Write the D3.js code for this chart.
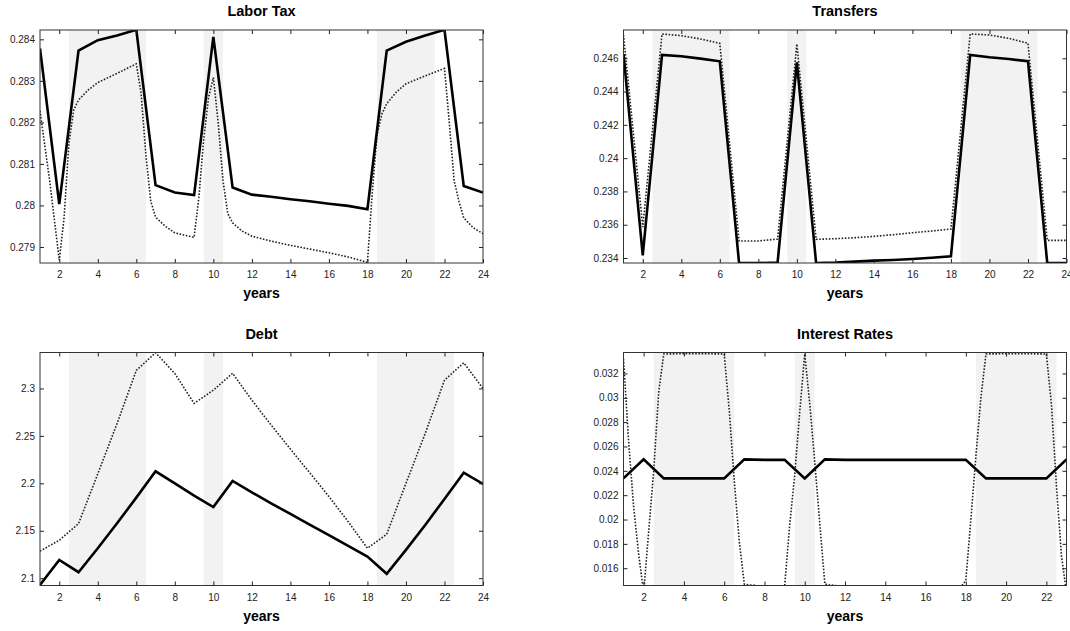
<!DOCTYPE html>
<html>
<head>
<meta charset="utf-8">
<script src="https://cdn.jsdelivr.net/npm/d3@7"></script>
<style>
  html, body { margin: 0; padding: 0; background: #fff; }
  svg { display: block; }
  .tick text { font-family: "Liberation Sans", Arial, sans-serif; font-size: 10px; fill: #222; }
</style>
</head>
<body>
<svg id="chart" width="1070" height="631"></svg>
<script>
// ---------------- DATA ----------------
const years = [1,2,3,4,5,6,7,8,9,10,11,12,13,14,15,16,17,18,19,20,21,22,23,24];
const yearsInterest = [1,2,3,4,5,6,7,8,9,10,11,12,13,14,15,16,17,18,19,20,21,22,23];

const xTicks = [2,4,6,8,10,12,14,16,18,20,22,24];
const xTicksInterest = [2,4,6,8,10,12,14,16,18,20,22];

const bandStarts = [2.5, 9.5, 18.5];
const bandEnds = [6.5, 10.5, 22.5];
const laborTaxBandEnds = [6.5, 10.5, 21.5];

// Labor Tax
const laborTaxSolid = [0.28378, 0.28003, 0.28373, 0.28398, 0.28409, 0.28423, 0.28049, 0.28031, 0.28025, 0.28406, 0.28043, 0.28026, 0.28021, 0.28015, 0.28010, 0.28004, 0.27999, 0.27991, 0.28373, 0.28394, 0.28409, 0.28423, 0.28047, 0.28031];
const laborTaxDottedX = [1, 1.5, 2, 2.25, 2.5, 2.75, 3, 3.5, 4, 5, 6, 6.25, 6.5, 6.75, 7, 7.5, 8, 9, 9.25, 9.5, 9.75, 10, 10.25, 10.5, 10.75, 11, 11.5, 12, 13, 14, 15, 16, 17, 18, 18.25, 18.5, 18.75, 19, 19.5, 20, 21, 22, 22.25, 22.5, 22.75, 23, 23.5, 24];
const laborTaxDottedY = [0.28228, 0.2806, 0.27868, 0.2797, 0.2815, 0.2823, 0.28254, 0.28278, 0.28296, 0.28318, 0.28341, 0.2827, 0.2812, 0.2801, 0.27972, 0.2795, 0.27934, 0.27923, 0.2802, 0.2816, 0.2826, 0.28308, 0.2820, 0.2806, 0.2798, 0.27958, 0.27938, 0.27926, 0.27914, 0.27904, 0.27895, 0.27886, 0.27876, 0.27863, 0.2803, 0.2817, 0.2822, 0.28245, 0.28273, 0.28293, 0.28312, 0.28330, 0.2820, 0.2806, 0.2801, 0.2797, 0.27946, 0.27932];
const laborTaxRange = [0.278614, 0.284225];
const laborTaxTicks = [0.279, 0.28, 0.281, 0.282, 0.283, 0.284];

// Transfers
const transfersSolid = [0.24626, 0.23416, 0.2462, 0.24612, 0.24598, 0.24582, 0.2337, 0.2337, 0.23372, 0.24576, 0.2337, 0.23372, 0.23378, 0.23384, 0.23388, 0.23394, 0.23402, 0.2341, 0.2462, 0.24606, 0.24596, 0.24582, 0.2337, 0.2337];
const transfersDotted = [0.24740, 0.23586, 0.24746, 0.24736, 0.24716, 0.24690, 0.23502, 0.23502, 0.23514, 0.24686, 0.23512, 0.23516, 0.23522, 0.2353, 0.2354, 0.23552, 0.23562, 0.23574, 0.24746, 0.2474, 0.2472, 0.2469, 0.23506, 0.23506];
const transfersRange = [0.2337, 0.2477];
const transfersTicks = [0.234, 0.236, 0.238, 0.24, 0.242, 0.244, 0.246];

// Debt
const debtSolid = [2.093, 2.1193, 2.1063, 2.1316, 2.1579, 2.1849, 2.2127, 2.2, 2.187, 2.175, 2.2025, 2.1905, 2.1789, 2.1677, 2.1565, 2.1453, 2.134, 2.1228, 2.1046, 2.1298, 2.1561, 2.1835, 2.2112, 2.1993];
const debtDotted = [2.1285, 2.1400, 2.1575, 2.21, 2.263, 2.319, 2.3377, 2.3158, 2.2842, 2.2982, 2.316, 2.2877, 2.2614, 2.2361, 2.2112, 2.186, 2.1596, 2.1316, 2.1463, 2.2, 2.2526, 2.3088, 2.327, 2.3];
const debtRange = [2.0923, 2.3379];
const debtTicks = [2.1, 2.15, 2.2, 2.25, 2.3];

// Interest Rates
const interestSolid = [0.02338, 0.02494, 0.02338, 0.02338, 0.02338, 0.02338, 0.02494, 0.02490, 0.02490, 0.02338, 0.02494, 0.02490, 0.02490, 0.02490, 0.02490, 0.02490, 0.02490, 0.02490, 0.02338, 0.02338, 0.02338, 0.02338, 0.02494];
const interestDottedX = [1, 1.25, 1.5, 1.75, 2, 2.25, 2.5, 2.75, 3, 4, 5, 6, 6.25, 6.5, 6.75, 7, 7.25, 7.5, 8, 8.5, 9, 9.25, 9.5, 9.75, 10, 10.25, 10.5, 10.75, 11, 11.25, 11.5, 12, 17, 17.5, 18, 18.25, 18.5, 18.75, 19, 20, 21, 22, 22.25, 22.5, 22.75, 23];
const interestDottedY = [0.0332, 0.0265, 0.0211, 0.0172, 0.0140, 0.0190, 0.0240, 0.0305, 0.03360, 0.03362, 0.03362, 0.03360, 0.0290, 0.0232, 0.0182, 0.0147, 0.01462, 0.0146, 0.0136, 0.0138, 0.0145, 0.0195, 0.0236, 0.0288, 0.0336, 0.0295, 0.0247, 0.0196, 0.0147, 0.01462, 0.0146, 0.0136, 0.0136, 0.0139, 0.0150, 0.0200, 0.0252, 0.0300, 0.03360, 0.03362, 0.03362, 0.03360, 0.0295, 0.0228, 0.0170, 0.0140];
const interestRange = [0.01458, 0.03372];
const interestTicks = [0.016, 0.018, 0.02, 0.022, 0.024, 0.026, 0.028, 0.03, 0.032];

// ---------------- DRAWING ----------------
const svg = d3.select("#chart");
const FONT = '"Liberation Sans", Arial, Helvetica, sans-serif';
const PW = 443, PH = 233;

const panels = [
  { title: "Labor Tax", left: 40, top: 30, xs: years, solid: laborTaxSolid,
    dx: laborTaxDottedX, dy: laborTaxDottedY, yDom: laborTaxRange, yTicks: laborTaxTicks,
    xDom: [1, 24], xt: xTicks, bs: bandStarts, be: laborTaxBandEnds },
  { title: "Transfers", left: 623.5, top: 30, xs: years, solid: transfersSolid,
    dx: years, dy: transfersDotted, yDom: transfersRange, yTicks: transfersTicks,
    xDom: [1, 24], xt: xTicks, bs: bandStarts, be: bandEnds },
  { title: "Debt", left: 40, top: 352.5, xs: years, solid: debtSolid,
    dx: years, dy: debtDotted, yDom: debtRange, yTicks: debtTicks,
    xDom: [1, 24], xt: xTicks, bs: bandStarts, be: bandEnds },
  { title: "Interest Rates", left: 623.5, top: 352.5, xs: yearsInterest, solid: interestSolid,
    dx: interestDottedX, dy: interestDottedY, yDom: interestRange, yTicks: interestTicks,
    xDom: [1, 23], xt: xTicksInterest, bs: bandStarts, be: bandEnds }
];

panels.forEach((p, i) => {
  const g = svg.append("g").attr("transform", `translate(${p.left},${p.top})`);
  const x = d3.scaleLinear().domain(p.xDom).range([0, PW]);
  const y = d3.scaleLinear().domain(p.yDom).range([PH, 0]);

  const clipId = "clip" + i;
  g.append("clipPath").attr("id", clipId)
    .append("rect").attr("x", 0).attr("y", 0).attr("width", PW).attr("height", PH);

  const plot = g.append("g").attr("clip-path", `url(#${clipId})`);

  // shaded bands
  plot.selectAll("rect.band").data(p.bs.map((s, k) => [s, p.be[k]]))
    .enter().append("rect").attr("class", "band")
    .attr("x", d => x(d[0])).attr("y", 0)
    .attr("width", d => x(d[1]) - x(d[0])).attr("height", PH)
    .attr("fill", "#f2f2f2");

  // dotted line
  const dotted = p.dx.map((v, k) => [v, p.dy[k]]);
  plot.append("path").datum(dotted)
    .attr("fill", "none").attr("stroke", "#222").attr("stroke-width", 1.6)
    .attr("stroke-dasharray", "1.6,1.6")
    .attr("d", d3.line().x(d => x(d[0])).y(d => y(d[1])));

  // solid line
  const solid = p.xs.map((v, k) => [v, p.solid[k]]);
  plot.append("path").datum(solid)
    .attr("fill", "none").attr("stroke", "#000").attr("stroke-width", 2.6)
    .attr("stroke-linejoin", "miter")
    .attr("d", d3.line().x(d => x(d[0])).y(d => y(d[1])));

  // axes with inward ticks
  const fmt = v => String(v);
  const left = g.append("g").call(d3.axisLeft(y).tickValues(p.yTicks).tickFormat(fmt)
    .tickSizeInner(-4).tickSizeOuter(0).tickPadding(5));
  const right = g.append("g").attr("transform", `translate(${PW},0)`)
    .call(d3.axisRight(y).tickValues(p.yTicks).tickFormat("")
    .tickSizeInner(-4).tickSizeOuter(0));
  const bottom = g.append("g").attr("transform", `translate(0,${PH})`)
    .call(d3.axisBottom(x).tickValues(p.xt).tickFormat(fmt)
    .tickSizeInner(-4).tickSizeOuter(0).tickPadding(8));
  const top = g.append("g")
    .call(d3.axisTop(x).tickValues(p.xt).tickFormat("")
    .tickSizeInner(-4).tickSizeOuter(0));
  [left, right, bottom, top].forEach(a => {
    a.select(".domain").remove();
    a.selectAll(".tick line").attr("stroke", "#222");
  });
  left.selectAll("text").attr("font-family", FONT).attr("font-size", 10);
  bottom.selectAll("text").attr("font-family", FONT).attr("font-size", 10);

  // frame
  g.append("rect").attr("x", 0).attr("y", 0).attr("width", PW).attr("height", PH)
    .attr("fill", "none").attr("stroke", "#333").attr("stroke-width", 1);

  // title
  g.append("text").attr("x", PW / 2).attr("y", -14)
    .attr("text-anchor", "middle").attr("font-family", FONT)
    .attr("font-weight", "bold").attr("font-size", 14.5).attr("fill", "#000")
    .text(p.title);

  // x label
  g.append("text").attr("x", PW / 2).attr("y", PH + 35)
    .attr("text-anchor", "middle").attr("font-family", FONT)
    .attr("font-weight", "bold").attr("font-size", 14).attr("fill", "#000")
    .text("years");
});
</script>
</body>
</html>
